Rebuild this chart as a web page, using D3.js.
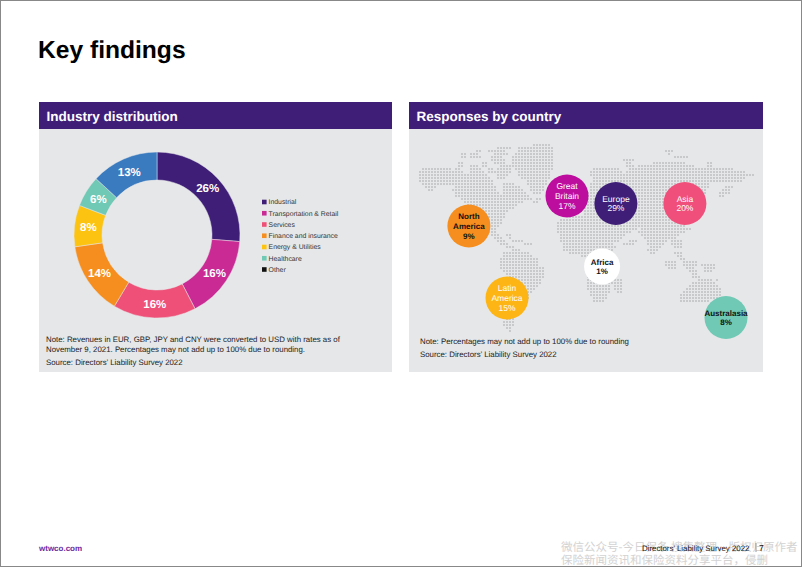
<!DOCTYPE html>
<html><head><meta charset="utf-8">
<script src="https://cdn.jsdelivr.net/npm/d3@7/dist/d3.min.js"></script>
<style>html,body{margin:0;padding:0;background:#fff}svg{display:block}text{font-family:"Liberation Sans",Arial,sans-serif;text-rendering:geometricPrecision}</style>
</head><body><div id="c"></div>
<script>
const industries=["Industrial","Transportation & Retail","Services","Finance and insurance","Energy & Utilities","Healthcare","Other"];
const industryValues=[26,16,16,14,8,6,13];
const sliceColors=["#3f1e78","#c92a94","#ee5078","#f58e1e","#fdc311","#6fc9b5","#3a7bc0"];
const legendColors=["#3f1e78","#c92a94","#ee5078","#f58e1e","#fdc311","#6fc9b5","#111111"];
const regions=[["North","America","9%"],["Great","Britain","17%"],["Europe","29%"],["Asia","20%"],["Africa","1%"],["Latin","America","15%"],["Australasia","8%"]];
const regionAt=[[16.3,27],[49,17],[65.3,19.5],[88.3,19.5],[60.7,40.5],[29,51],[102,57.5]]; // in map grid units
const regionFill=["#f58e1e","#bd0d9e","#3f1e78","#f14f7b","#ffffff","#fdb515","#6fc9b5"];
const regionInk=["#111","#fff","#fff","#fff","#111","#fff","#111"];
const regionSize=[9,17,29,20,1,15,8];
// dot-map runs: [row, first column, last column]
const greenland=[[0,38,43],[1,33,44],[2,33,44],[3,32,44],[4,31,44],[5,31,44],[6,31,44],[7,31,44],[8,32,44],[9,33,43],[10,33,43],[11,34,43],[12,36,42],[13,36,42],[14,37,41],[15,37,41],[16,38,40]];
const arctic=[[1,26,30],[2,19,20],[2,23,28],[3,14,15],[3,17,19],[3,25,29],[4,14,15],[4,17,20],[4,24,27],[5,24,28],[6,13,14],[6,21,22],[6,25,28],[7,13,14],[7,17,19],[7,21,22],[7,27,30]];
const northAmerica=[[8,1,10],[8,12,13],[8,17,20],[8,23,24],[8,26,30],[9,0,14],[9,17,21],[9,23,30],[10,0,22],[10,26,29],[11,0,23],[11,26,28],[12,0,24],[13,1,24],[13,28,31],[14,2,5],[14,12,25],[14,28,33],[15,3,4],[15,11,25],[15,28,34],[16,12,26],[16,28,35],[17,12,36],[18,14,37],[18,39,40],[19,15,34],[19,38,39],[20,16,32],[21,16,31],[22,17,29],[23,18,28],[24,18,28],[25,19,27],[26,20,27],[27,21,26],[28,22,25],[29,23,25],[30,24,26],[30,29,30],[31,25,27],[31,30,30],[32,26,28],[32,31,34],[33,27,29],[33,35,37],[34,29,31],[35,31,33]];
const southAmerica=[[36,28,36],[37,28,37],[38,27,39],[39,27,39],[40,27,39],[41,27,41],[42,28,41],[43,29,41],[44,30,41],[45,31,40],[46,32,40],[47,33,39],[48,34,38],[49,34,37],[50,34,36],[51,33,36],[52,32,35],[53,31,34],[54,30,33],[55,30,33],[56,29,32],[57,29,32],[58,29,31],[59,28,31],[60,28,31],[61,29,30],[62,30,30]];
const eurasia=[[2,82,84],[3,83,83],[4,85,89],[5,68,71],[6,69,70],[6,78,88],[6,96,97],[7,69,71],[7,73,91],[7,96,97],[8,58,66],[8,70,104],[9,57,67],[9,69,108],[10,57,111],[11,58,108],[12,58,107],[13,57,96],[14,57,96],[14,102,104],[15,57,95],[15,101,103],[16,56,95],[16,100,103],[17,55,94],[17,100,101],[18,55,94],[19,55,93],[20,55,92],[21,55,92],[22,55,92],[23,55,90],[24,50,91],[25,47,90],[26,46,88],[27,46,88],[28,46,72],[28,74,90],[29,46,70],[29,73,88],[30,47,68],[30,74,86],[31,47,67],[31,75,85],[32,47,66],[32,70,72],[32,76,82],[32,84,87],[33,48,64],[33,68,71],[33,76,81],[33,84,87],[34,48,65],[34,77,80],[34,85,87],[35,48,64],[35,76,79],[36,50,63],[36,77,78],[36,85,87],[37,54,64],[37,86,87],[38,56,64],[38,87,88],[39,56,64],[39,82,85],[39,88,92],[40,56,63],[40,82,85],[40,88,92],[40,94,98],[41,56,64],[41,83,85],[41,89,91],[41,95,98],[42,56,64],[42,90,92],[42,95,97],[43,56,64],[43,91,92],[44,56,64],[44,91,93]];
const southern=[[45,56,64],[45,65,67],[45,93,97],[45,99,99],[46,56,64],[46,65,67],[46,91,98],[47,56,63],[47,65,67],[47,90,99],[48,56,63],[48,65,67],[48,89,100],[49,57,63],[49,66,67],[49,88,100],[50,57,62],[50,87,100],[51,58,62],[51,87,100],[52,58,61],[52,87,96]];
const mapRuns=[...greenland,...arctic,...northAmerica,...southAmerica,...eurasia,...southern];
const noteLeft=["Note: Revenues in EUR, GBP, JPY and CNY were converted to USD with rates as of","November 9, 2021. Percentages may not add up to 100% due to rounding."];
const noteRight=["Note: Percentages may not add up to 100% due to rounding"];
const sourceText="Source: Directors’ Liability Survey 2022";
const watermark=["微信公众号-今日保条 搜集整理，版权归原作者","保险新闻资讯和保险资料分享平台，侵删"];

const W=802,H=567,purple="#3f1e78";
const svg=d3.select("#c").append("svg").attr("width",W).attr("height",H);
svg.append("rect").attr("x",.5).attr("y",.5).attr("width",W-1).attr("height",H-1).attr("fill","#fff").attr("stroke","#888");
svg.append("text").attr("x",38).attr("y",57.5).attr("font-size",24.6).attr("font-weight",700).attr("fill","#000").text("Key findings");

function panel(x,w,title){
  svg.append("rect").attr("x",x).attr("y",102).attr("width",w).attr("height",270).attr("fill","#e6e7e8");
  svg.append("rect").attr("x",x).attr("y",102).attr("width",w).attr("height",27).attr("fill",purple);
  svg.append("text").attr("x",x+7.5).attr("y",121).attr("font-size",13.5).attr("font-weight",700).attr("fill","#fff").text(title);
}
panel(39,353,"Industry distribution");
panel(409,354,"Responses by country");

// donut
const g=svg.append("g").attr("transform","translate(157,235)");
const pie=d3.pie().sort(null).value(d=>d);
const arc=d3.arc().innerRadius(55).outerRadius(83);
const slices=g.selectAll("g").data(pie(industryValues)).join("g");
slices.append("path").attr("d",arc).attr("fill",(d,i)=>sliceColors[i]).attr("stroke","#e6e7e8").attr("stroke-width",.5);
slices.append("text").attr("transform",d=>`translate(${arc.centroid(d)})`).attr("text-anchor","middle").attr("dy","0.36em")
  .attr("font-size",11.5).attr("font-weight",700).attr("fill","#fff").text(d=>d.data+"%");

// legend
const ly=d3.scalePoint().domain(industries).range([202,269.5]);
const lg=svg.append("g").selectAll("g").data(industries).join("g").attr("transform",d=>`translate(262,${ly(d)})`);
lg.append("rect").attr("x",0).attr("y",-2.3).attr("width",4.6).attr("height",4.6).attr("fill",(d,i)=>legendColors[i]);
lg.append("text").attr("x",6.6).attr("dy","0.35em").attr("font-size",6.85).attr("fill","#333").text(d=>d);

// notes
function lines(x,arr,ys){arr.forEach((t,i)=>svg.append("text").attr("x",x).attr("y",ys[i]).attr("font-size",7.85).attr("fill","#222").text(t));}
lines(46,[...noteLeft,sourceText],[342,352,365]);
lines(420,[...noteRight,sourceText],[344,357]);

// map
const mx=d3.scaleLinear().domain([0,111]).range([420,753]);
const my=d3.scaleLinear().domain([0,62]).range([145,331]);
const dots=[];
mapRuns.forEach(([r,a,b])=>d3.range(a,b+1).forEach(c=>dots.push([c,r])));
svg.append("g").selectAll("rect").data(dots).join("rect")
  .attr("x",d=>mx(d[0])-.9).attr("y",d=>my(d[1])-.9).attr("width",1.8).attr("height",1.8).attr("fill","#c0c2c4");

// bubbles
const b=svg.append("g").selectAll("g").data(regions).join("g").attr("transform",(d,i)=>`translate(${mx(regionAt[i][0])},${my(regionAt[i][1])})`);
b.append("circle").attr("r",(d,i)=>regionSize[i]===1?18:21.5).attr("fill",(d,i)=>regionFill[i]);
b.each(function(d,i){
  const s=d3.select(this);
  d.forEach((t,k)=>s.append("text").attr("text-anchor","middle").attr("y",(k-(d.length-1)/2)*9.6+3).attr("font-size",regionInk[i]==="#111"?8:8.5).attr("font-weight",regionInk[i]==="#111"?700:400).attr("fill",regionInk[i]).text(t));
});

// footer
svg.append("text").attr("x",39).attr("y",551).attr("font-size",8).attr("font-weight",700).attr("fill","#6b2aa0").text("wtwco.com");
watermark.forEach((t,i)=>svg.append("text").attr("x",561).attr("y",550.5+i*13.5).attr("font-size",11.5).attr("style",'font-family:"Noto Sans CJK SC"').attr("fill","#d2d2d2").text(t));
svg.append("text").attr("x",642).attr("y",551).attr("font-size",7.85).attr("fill","#111").text("Directors’ Liability Survey 2022");
svg.append("line").attr("x1",756).attr("x2",756).attr("y1",543).attr("y2",552).attr("stroke","#555").attr("stroke-width",.6);
svg.append("text").attr("x",759).attr("y",551).attr("font-size",8.6).attr("fill","#111").text("7");
</script></body></html>
